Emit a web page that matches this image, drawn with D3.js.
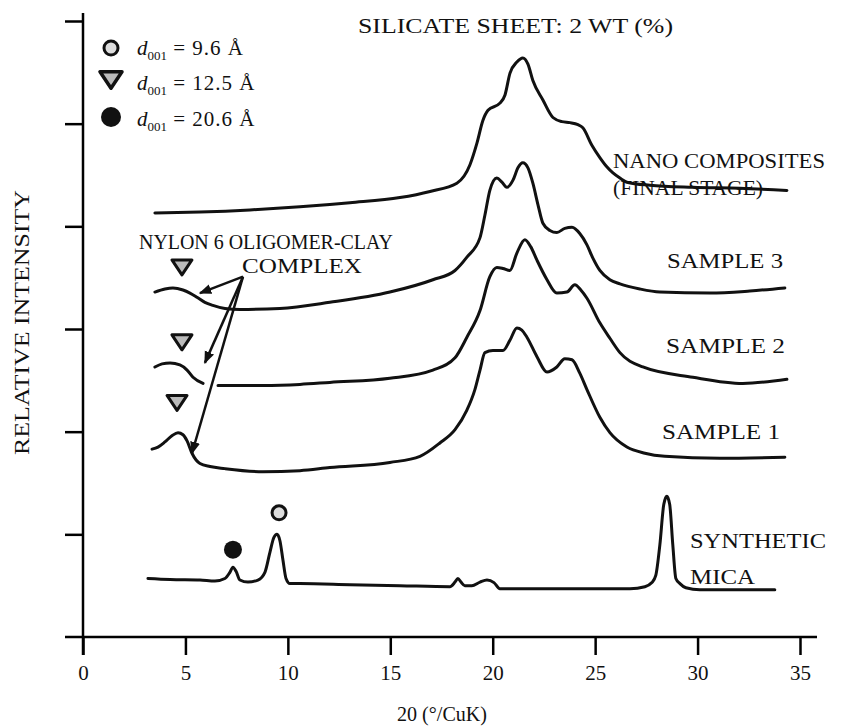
<!DOCTYPE html>
<html>
<head>
<meta charset="utf-8">
<script src="https://cdn.jsdelivr.net/npm/d3@7"></script>
<style>
  body { margin: 0; background: #fff; }
  text { font-family: "Liberation Serif", "Times New Roman", serif; fill: #111; }
</style>
</head>
<body>
<div class="chart"></div>
<script>
// x tick labels (2 theta, degrees)
const xTicks = [0, 5, 10, 15, 20, 25, 30, 35];
const yTicks = [1, 2, 3, 4, 5, 6];

// traces: [2theta, relative intensity (offset)]
const nano = [
  [3.51, 4.13], [5.71, 4.14], [8.15, 4.16], [10.59, 4.19], [13.03, 4.23], [15.47, 4.28],
  [16.94, 4.34], [18.25, 4.42], [18.89, 4.60], [19.23, 4.81], [19.52, 5.03], [19.77, 5.13],
  [20.35, 5.20], [20.60, 5.28], [20.84, 5.49], [21.18, 5.60], [21.47, 5.64], [21.72, 5.58],
  [21.96, 5.42], [22.45, 5.23], [22.94, 5.06], [23.38, 5.02], [23.77, 5.01], [24.16, 4.99],
  [24.40, 4.96], [24.84, 4.79], [25.23, 4.67], [25.57, 4.58], [25.87, 4.52], [26.21, 4.47],
  [26.55, 4.43], [27.67, 4.40], [29.77, 4.38], [32.06, 4.37], [34.36, 4.35]
];
const sample3 = [
  [3.51, 3.36], [4.00, 3.39], [4.39, 3.40], [4.88, 3.38], [5.22, 3.35], [5.56, 3.31],
  [5.95, 3.26], [6.34, 3.23], [6.93, 3.20], [7.66, 3.19], [9.61, 3.20], [12.05, 3.26],
  [14.98, 3.36], [17.08, 3.48], [18.16, 3.57], [18.74, 3.70], [19.38, 3.89], [19.62, 4.11],
  [19.86, 4.35], [20.20, 4.47], [20.45, 4.43], [20.69, 4.38], [20.99, 4.45], [21.23, 4.57],
  [21.47, 4.62], [21.72, 4.57], [21.96, 4.42], [22.21, 4.21], [22.45, 4.03], [22.79, 3.96],
  [23.13, 3.94], [23.52, 3.98], [23.87, 3.99], [24.25, 3.93], [24.60, 3.82], [24.89, 3.69],
  [25.23, 3.57], [25.72, 3.48], [26.21, 3.44], [27.18, 3.39], [28.16, 3.36], [30.60, 3.35],
  [32.55, 3.37], [34.26, 3.40]
];
const sample2 = [
  [3.51, 2.63], [3.86, 2.66], [4.25, 2.67], [4.73, 2.65], [5.08, 2.60], [5.37, 2.53],
  [5.86, 2.47], [6.2, null],
  [6.59, 2.45], [7.66, 2.45], [8.78, 2.45], [10.59, 2.46], [12.05, 2.48], [14.98, 2.52],
  [17.08, 2.60], [18.16, 2.72], [18.74, 2.92], [19.38, 3.18], [19.86, 3.51], [20.20, 3.60],
  [20.50, 3.59], [20.84, 3.57], [21.18, 3.74], [21.57, 3.87], [21.86, 3.80], [22.16, 3.67],
  [22.65, 3.48], [23.13, 3.35], [23.62, 3.36], [24.01, 3.43], [24.30, 3.38], [24.60, 3.30],
  [25.23, 3.06], [25.72, 2.91], [26.21, 2.77], [27.33, 2.63], [29.77, 2.53], [32.21, 2.47],
  [34.36, 2.51]
];
const sample1 = [
  [3.37, 1.83], [3.66, 1.85], [4.00, 1.90], [4.34, 1.96], [4.64, 1.99], [4.88, 1.97],
  [5.08, 1.91], [5.32, 1.79], [5.71, 1.69], [6.20, 1.66], [6.93, 1.64], [8.78, 1.61],
  [10.59, 1.62], [12.05, 1.65], [14.98, 1.70], [16.45, 1.76], [17.42, 1.89], [18.16, 2.02],
  [18.74, 2.21], [19.13, 2.41], [19.38, 2.60], [19.62, 2.77], [20.01, 2.79], [20.50, 2.79],
  [20.84, 2.89], [21.18, 3.01], [21.42, 2.99], [21.67, 2.92], [22.16, 2.73], [22.65, 2.58],
  [23.13, 2.63], [23.52, 2.71], [23.87, 2.70], [24.25, 2.57], [24.60, 2.41], [25.23, 2.14],
  [25.72, 1.99], [26.55, 1.85], [27.43, 1.79], [28.40, 1.76], [31.09, 1.74], [34.26, 1.75]
];
const mica = [
  [3.17, 0.57], [4.25, 0.56], [5.71, 0.555], [6.44, 0.545], [6.93, 0.57], [7.17, 0.63],
  [7.32, 0.68], [7.47, 0.64], [7.66, 0.555], [8.05, 0.535], [8.54, 0.555], [8.88, 0.63],
  [9.13, 0.83], [9.32, 0.97], [9.47, 1.00], [9.61, 0.94], [9.76, 0.75], [9.91, 0.57],
  [10.10, 0.52], [10.59, 0.52], [13.03, 0.51], [15.47, 0.50], [17.91, 0.49], [18.16, 0.535],
  [18.30, 0.57], [18.45, 0.535], [18.64, 0.50], [18.98, 0.50], [19.38, 0.535], [19.72, 0.555],
  [20.06, 0.53], [20.35, 0.47], [22.79, 0.47], [25.23, 0.47], [26.70, 0.47], [27.43, 0.49],
  [27.77, 0.53], [27.96, 0.60], [28.16, 0.90], [28.35, 1.29], [28.50, 1.37], [28.64, 1.29],
  [28.79, 0.90], [28.94, 0.57], [29.14, 0.52], [29.43, 0.48], [30.11, 0.46], [32.06, 0.46],
  [33.77, 0.46]
];

// peak markers
const triangles = [[4.83, 3.60], [4.83, 2.87], [4.59, 2.28]];
const filledDots = [[7.32, 0.85]];
const openDots = [[9.57, 1.21]];

// arrows from "COMPLEX" to the low-angle peaks
const arrowFrom = [7.81, 3.51];
const arrowTo = [[5.71, 3.35], [5.95, 2.67], [5.32, 1.79]];

const legendItems = [
  { mark: 'open', value: '9.6' },
  { mark: 'tri', value: '12.5' },
  { mark: 'filled', value: '20.6' }
];

const width = 856, height = 728;
const svg = d3.select('.chart').append('svg')
  .attr('width', width)
  .attr('height', height);

const x = d3.scaleLinear().domain([0, 35]).range([83, 800]);
const y = d3.scaleLinear().domain([0, 6]).range([637, 21]);

svg.append('defs').append('marker')
  .attr('id', 'arrow')
  .attr('viewBox', '0 0 10 10')
  .attr('refX', 9).attr('refY', 5)
  .attr('markerWidth', 5).attr('markerHeight', 5)
  .attr('orient', 'auto')
  .append('path')
  .attr('d', 'M0,1 L10,5 L0,9 Z')
  .attr('fill', '#111');

// x axis
const xAxis = svg.append('g')
  .attr('transform', 'translate(0,' + y(0) + ')')
  .call(d3.axisBottom(x).tickValues(xTicks).tickSize(18).tickSizeOuter(0).tickPadding(10));
xAxis.select('.domain').attr('d', 'M' + (x(0) - 18) + ',0H' + (x(35) + 17));
xAxis.selectAll('line').attr('stroke-width', 2.5);
xAxis.select('.domain').attr('stroke-width', 2.5);
xAxis.selectAll('text').attr('font-size', 21).attr('font-family', 'Liberation Serif').attr('fill', '#111');

// y axis (no labels)
const yAxis = svg.append('g')
  .attr('transform', 'translate(' + x(0) + ',0)')
  .call(d3.axisLeft(y).tickValues(yTicks).tickSize(18).tickSizeOuter(0).tickFormat(''));
yAxis.select('.domain').attr('d', 'M0,' + (y(0) + 18) + 'V' + (y(6) - 8));
yAxis.selectAll('line').attr('stroke-width', 2.5);
yAxis.select('.domain').attr('stroke-width', 2.5);

// axis titles
svg.append('text')
  .attr('x', 397).attr('y', 721)
  .attr('font-size', 22)
  .attr('textLength', 90)
  .attr('lengthAdjust', 'spacingAndGlyphs')
  .text('20 (°/CuK)');

svg.append('text')
  .attr('transform', 'translate(29,455) rotate(-90)')
  .attr('font-size', 21)
  .attr('textLength', 265)
  .attr('lengthAdjust', 'spacingAndGlyphs')
  .text('RELATIVE INTENSITY');

// traces
const line = d3.line()
  .defined(d => d[1] !== null)
  .x(d => x(d[0]))
  .y(d => y(d[1]))
  .curve(d3.curveMonotoneX);

[nano, sample3, sample2, sample1, mica].forEach(s => {
  svg.append('path')
    .datum(s)
    .attr('d', line)
    .attr('fill', 'none')
    .attr('stroke', '#111')
    .attr('stroke-width', 3)
    .attr('stroke-linejoin', 'round')
    .attr('stroke-linecap', 'round');
});

// arrows
svg.selectAll('.arrow')
  .data(arrowTo)
  .enter().append('line')
  .attr('class', 'arrow')
  .attr('x1', x(arrowFrom[0])).attr('y1', y(arrowFrom[1]))
  .attr('x2', d => x(d[0])).attr('y2', d => y(d[1]))
  .attr('stroke', '#111')
  .attr('stroke-width', 2.5)
  .attr('marker-end', 'url(#arrow)');

// markers
const tri = (cx, cy, w) => {
  const h = w * 0.75;
  return 'M' + (cx - w / 2) + ',' + (cy - h / 2) + 'L' + (cx + w / 2) + ',' + (cy - h / 2) + 'L' + cx + ',' + (cy + h / 2) + 'Z';
};

svg.selectAll('.tri')
  .data(triangles)
  .enter().append('path')
  .attr('class', 'tri')
  .attr('d', d => tri(x(d[0]), y(d[1]), 20))
  .attr('fill', '#bbb')
  .attr('stroke', '#111')
  .attr('stroke-width', 3)
  .attr('stroke-linejoin', 'round');

svg.selectAll('.fdot')
  .data(filledDots)
  .enter().append('circle')
  .attr('cx', d => x(d[0])).attr('cy', d => y(d[1]))
  .attr('r', 9)
  .attr('fill', '#111');

svg.selectAll('.odot')
  .data(openDots)
  .enter().append('circle')
  .attr('cx', d => x(d[0])).attr('cy', d => y(d[1]))
  .attr('r', 7)
  .attr('fill', '#ddd')
  .attr('stroke', '#111')
  .attr('stroke-width', 3);

// legend
const legend = svg.append('g');
legendItems.forEach((it, i) => {
  const cy = [48, 80, 117][i];
  const base = [55, 90, 126][i];
  if (it.mark === 'open') {
    legend.append('circle').attr('cx', 111).attr('cy', cy).attr('r', 7)
      .attr('fill', '#ddd').attr('stroke', '#111').attr('stroke-width', 3);
  } else if (it.mark === 'tri') {
    legend.append('path').attr('d', tri(111, cy, 22))
      .attr('fill', '#bbb').attr('stroke', '#111').attr('stroke-width', 3.5).attr('stroke-linejoin', 'round');
  } else {
    legend.append('circle').attr('cx', 111).attr('cy', cy).attr('r', 10).attr('fill', '#111');
  }
  const t = legend.append('text').attr('x', 137).attr('y', base).attr('font-size', 21);
  t.append('tspan').attr('font-style', 'italic').text('d');
  t.append('tspan').attr('font-size', 13).attr('dy', 5).text('001');
  t.append('tspan').attr('dy', -5).attr('letter-spacing', 1).text(' = ' + it.value + ' Å');
});

// annotations (x, baseline, target width, font size)
const notes = [
  { x: 358, y: 33, w: 315, s: 21, t: 'SILICATE SHEET: 2 WT (%)' },
  { x: 613, y: 168, w: 212, s: 21, t: 'NANO COMPOSITES' },
  { x: 613, y: 195, w: 150, s: 21, t: '(FINAL STAGE)' },
  { x: 139, y: 249, w: 254, s: 20, t: 'NYLON 6 OLIGOMER-CLAY' },
  { x: 242, y: 273, w: 120, s: 21, t: 'COMPLEX' },
  { x: 667, y: 268, w: 116, s: 21, t: 'SAMPLE 3' },
  { x: 666, y: 353, w: 119, s: 21, t: 'SAMPLE 2' },
  { x: 662, y: 439, w: 118, s: 21, t: 'SAMPLE 1' },
  { x: 690, y: 548, w: 136, s: 21, t: 'SYNTHETIC' },
  { x: 690, y: 584, w: 65, s: 21, t: 'MICA' }
];
svg.selectAll('.note')
  .data(notes)
  .enter().append('text')
  .attr('class', 'note')
  .attr('x', d => d.x).attr('y', d => d.y)
  .attr('font-size', d => d.s)
  .attr('textLength', d => d.w)
  .attr('lengthAdjust', 'spacingAndGlyphs')
  .text(d => d.t);
</script>
</body>
</html>
